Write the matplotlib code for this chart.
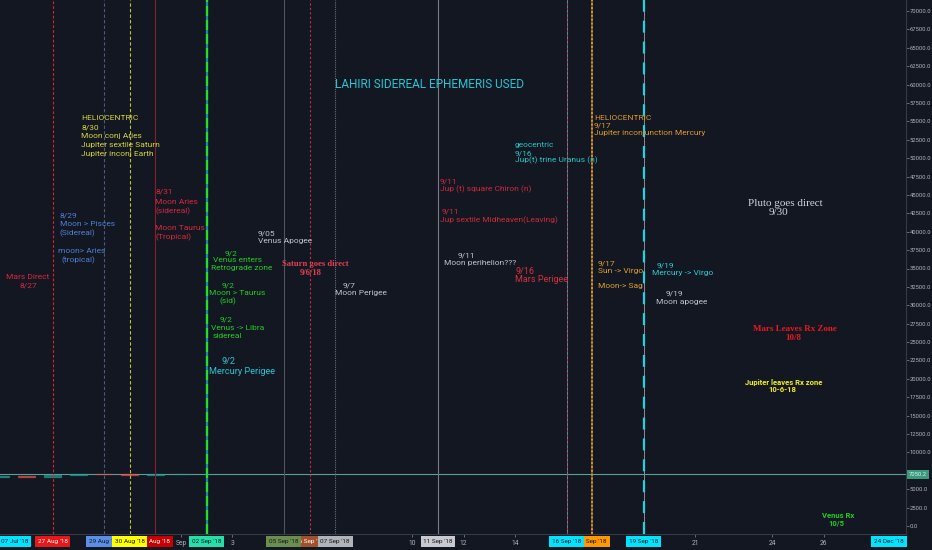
import datetime as dt
import matplotlib
matplotlib.use("Agg")
import matplotlib.pyplot as plt
import matplotlib.dates as mdates
import matplotlib.transforms as mtrans

# ---------------- data ----------------
candle_dates = ["2018-08-25", "2018-08-26", "2018-08-27", "2018-08-28",
                "2018-08-29", "2018-08-30", "2018-08-31", "2018-09-01"]
candle_open = [6690, 6760, 6690, 6920, 7080, 7040, 6990, 7020]
candle_close = [6760, 6690, 6920, 7080, 7040, 6990, 7020, 7120]
last_price = 7050.2

event_dates = ["2018-08-27", "2018-08-29", "2018-08-30", "2018-08-31",
               "2018-09-02", "2018-09-05", "2018-09-06", "2018-09-07",
               "2018-09-11", "2018-09-16", "2018-09-17", "2018-09-19"]
event_labels = ["27 Aug '18", "29 Aug '18", "30 Aug '18", "31 Aug '18",
                "02 Sep '18", "05 Sep '18", "06 Sep '18", "07 Sep '18",
                "11 Sep '18", "16 Sep '18", "17 Sep '18", "19 Sep '18"]
plain_tick_dates = ["2018-09-01", "2018-09-03", "2018-09-10", "2018-09-12",
                    "2018-09-14", "2018-09-21", "2018-09-24", "2018-09-26"]
plain_tick_labels = ["Sep", "3", "10", "12", "14", "21", "24", "26"]
edge_labels = ["07 Jul '18", "24 Dec '18"]
y_ticks = list(range(0, 70001, 2500))

# ---------------- style ----------------
BG = "#131722"
AXC = "#b2b5be"
W, H = 932, 550
fig = plt.figure(figsize=(W / 100, H / 100), dpi=100, facecolor=BG)
ax = fig.add_axes([0, 16 / H, 906 / W, 534 / H], facecolor=BG)

def dnum(s):
    return mdates.date2num(dt.datetime.strptime(s, "%Y-%m-%d"))

base = dnum("2018-09-01")
ppd = 25.7
ax.set_xlim(base - 181 / ppd, base + (906 - 181) / ppd)
ppv = 515 / 70000
ax.set_ylim(-8 / ppv, 526 / ppv)

# candles
for d, o, c in zip(candle_dates, candle_open, candle_close):
    col = "#26a69a" if c >= o else "#ef5350"
    ax.bar(dnum(d), c - o, bottom=o, width=0.65, color=col, edgecolor=col,
           linewidth=0.9, alpha=0.6, zorder=3)

# price line
ax.axhline(last_price, color="#5a9e9a", lw=0.8, zorder=2)

# event lines (styles per event)
line_styles = [
    [dict(color="#e0202a", lw=0.8, ls=(0, (2.5, 1.8)))],
    [dict(color="#4e5a7a", lw=0.8, ls=(0, (3, 2)))],
    [dict(color="#c0c040", lw=0.8, ls=(0, (3, 2)))],
    [dict(color="#8a1c2c", lw=0.8, ls="-")],
    [dict(color="#1e88a8", lw=1.6, ls="-"),
     dict(color="#22e022", lw=1.6, ls=(0, (4.5, 1.8)))],
    [dict(color="#50545f", lw=0.8, ls="-")],
    [dict(color="#c0304a", lw=0.8, ls=(0, (2, 2)))],
    [dict(color="#6a6e78", lw=0.8, ls=(0, (1, 1)))],
    [dict(color="#787b86", lw=0.8, ls="-")],
    [dict(color="#2aa8b8", lw=0.7, ls="-"),
     dict(color="#d02848", lw=0.8, ls=(0, (2, 2)))],
    [dict(color="#6a5030", lw=1.4, ls="-"),
     dict(color="#e0902a", lw=1.4, ls=(0, (1, 1)))],
    [dict(color="#8a8d96", lw=0.7, ls="-"),
     dict(color="#22d3e0", lw=1.6, ls=(0, (5.4, 4)))],
]
for d, sts in zip(event_dates, line_styles):
    for st in sts:
        ax.axvline(dnum(d), color=st["color"], lw=st["lw"], ls=st["ls"], zorder=4)

# axes styling
for s in ["left", "top"]:
    ax.spines[s].set_visible(False)
for s in ["right", "bottom"]:
    ax.spines[s].set_color("#363a45")
    ax.spines[s].set_linewidth(0.8)
ax.yaxis.tick_right()
ax.set_yticks(y_ticks)
# the tick label under the last-price marker is hidden, as in the reference
ax.set_yticklabels(["" if abs(v - last_price) < 1000 else f"{v:.1f}" for v in y_ticks])
ax.tick_params(axis="y", colors="#787b86", labelcolor=AXC, labelsize=4.2,
               length=2, width=0.6, pad=0.8)
ax.set_xticks([dnum(d) for d in plain_tick_dates])
ax.set_xticklabels(plain_tick_labels)
ax.tick_params(axis="x", colors="#787b86", labelcolor=AXC, labelsize=4.8,
               length=2, width=0.6, pad=2)
for lab in ax.get_yticklabels() + ax.get_xticklabels():
    lab.set_family("Roboto")

# last price label
tr_yd = mtrans.blended_transform_factory(fig.transFigure, ax.transData)
fig.text(909 / W, last_price, f"{last_price:.1f}", transform=tr_yd, fontsize=4.2,
         family="Roboto", color="#e8f0ec", va="center", ha="left", zorder=10,
         bbox=dict(boxstyle="square,pad=0.35", fc="#3a9a7e", ec="none"))

# highlighted date labels
tr_xd = mtrans.blended_transform_factory(ax.transData, fig.transFigure)
label_bg = ["#e81818", "#5b8ee6", "#ffff00", "#c80000", "#22e0a8", "#6b8e4e",
            "#a0522d", "#b0b3b8", "#c8cacf", "#00e5ff", "#ff9800", "#00e5ff"]
label_fg = ["#ffffff", "#131722", "#131722", "#ffffff", "#131722", "#131722",
            "#ffffff", "#131722", "#131722", "#131722", "#131722", "#131722"]
label_z = [3, 2, 5, 3, 3, 5, 2, 5, 3, 5, 3, 3]
ylab = 1 - 541.5 / H
LBOX = dict(boxstyle="square,pad=0.42")
for d, s, bg, fg, z in zip(event_dates, event_labels, label_bg, label_fg, label_z):
    fig.text(dnum(d), ylab, s, transform=tr_xd, fontsize=4.6, family="Roboto",
             color=fg, ha="center", va="center", zorder=z,
             bbox=dict(LBOX, fc=bg, ec="none"))
tr_xa = mtrans.blended_transform_factory(ax.transAxes, fig.transFigure)
fig.text(15 / 906, ylab, edge_labels[0], transform=tr_xa, fontsize=4.6,
         family="Roboto", color="#131722", ha="center", va="center", zorder=6,
         bbox=dict(LBOX, fc="#00e5ff", ec="none"))
fig.text(889 / 906, ylab, edge_labels[1], transform=tr_xa, fontsize=4.6,
         family="Roboto", color="#131722", ha="center", va="center", zorder=6,
         bbox=dict(LBOX, fc="#00e5ff", ec="none"))

# ---------------- annotations ----------------
def T(x, y, s, color, size=6.0, ha="left", weight="normal", family="Roboto"):
    fig.text(x / W, 1 - y / H, s, color=color, fontsize=size, ha=ha, va="center",
             fontweight=weight, family=family, zorder=8)

YEL = "#d6d63c"
RED = "#d8283c"
BLU = "#4f7fd4"
GRN = "#22cc22"
CYN = "#26c6d4"
GRY = "#c0c4cc"
ORG = "#dc9a30"

T(335, 84, "LAHIRI SIDEREAL EPHEMERIS USED", CYN, size=8.5)

for y, s in zip([118, 127, 136, 145, 154],
                ["HELIOCENTRIC", "8/30", "Moon conj Aries",
                 "Jupiter sextile Saturn", "Jupiter inconj Earth"]):
    T(81, y, s, YEL)

for y, s in zip([192, 202, 211, 228, 237],
                ["8/31", "Moon Aries", "(sidereal)", "Moon Taurus", "(Tropical)"]):
    T(155, y, s, RED)

for y, s in zip([215, 224, 233], ["8/29", "Moon > Pisces", "(Sidereal)"]):
    T(60, y, s, BLU)
T(58, 251, "moon> Aries", BLU)
T(61, 260, "(tropical)", BLU)

T(28, 277, "Mars Direct", RED, ha="center")
T(28, 286, "8/27", RED, ha="center")

T(258, 233, "9/05", GRY)
T(258, 241, "Venus Apogee", GRY)

for x, y, s in [(231, 253, "9/2"), (238, 260, "Venus enters"),
                (242, 268, "Retrograde zone"),
                (228, 285, "9/2"), (237, 293, "Moon > Taurus"), (228, 301, "(sid)"),
                (226, 319, "9/2"), (238, 328, "Venus -> Libra"),
                (227, 336, "sidereal")]:
    T(x, y, s, GRN, ha="center")
T(228, 362, "9/2", CYN, size=6.6, ha="center")
T(242, 371, "Mercury Perigee", CYN, size=6.6, ha="center")

T(315, 264, "Saturn goes direct", "#e0404f", size=6.2, ha="center",
  weight="bold", family="Liberation Serif")
T(311, 273, "9/6/18", "#e0404f", size=6.2, ha="center", weight="bold",
  family="Liberation Serif")

T(343, 285, "9/7", GRY)
T(335, 293, "Moon Perigee", GRY)

T(458, 255, "9/11", GRY)
T(444, 263, "Moon perihelion???", GRY)

T(440, 181, "9/11", "#d02a3a")
T(440, 189, "Jup (t) square Chiron (n)", "#d02a3a")
T(442, 212, "9/11", "#d02a3a")
T(440, 220, "Jup sextile Midheaven(Leaving)", "#d02a3a")

T(515, 271, "9/16", "#d83040", size=6.5)
T(515, 280, "Mars Perigee", "#d83040", size=6.5)

for y, s in zip([145, 153, 160], ["geocentric", "9/16", "Jup(t) trine Uranus (n)"]):
    T(515, y, s, "#26c6c6")

for y, s in zip([118, 126, 133],
                ["HELIOCENTRIC", "9/17", "Jupiter inconjunction Mercury"]):
    T(594, y, s, ORG)

T(598, 263, "9/17", "#e0a030")
T(598, 271, "Sun -> Virgo", "#e0a030")
T(598, 286, "Moon-> Sag", "#e0a030")

T(657, 265, "9/19", "#26d0d8")
T(652, 273, "Mercury -> Virgo", "#26d0d8")

T(666, 294, "9/19", GRY)
T(656, 302, "Moon apogee", GRY)

T(785, 203, "Pluto goes direct", "#d0d4dc", size=8, ha="center",
  family="Liberation Serif")
T(778, 213, "9/30", "#d0d4dc", size=8, ha="center", family="Liberation Serif")

T(795, 329, "Mars Leaves Rx Zone", "#e81820", size=6.5, ha="center",
  weight="bold", family="Liberation Serif")
T(793, 338, "10/8", "#e81820", size=6.5, ha="center", weight="bold",
  family="Liberation Serif")

T(784, 382, "Jupiter leaves Rx zone", "#f0f020", size=5.5, ha="center",
  weight="bold")
T(782, 389, "10-6-18", "#f0f020", size=5.5, ha="center", weight="bold")

T(838, 516, "Venus Rx", GRN, size=5.5, ha="center", weight="bold")
T(836, 523, "10/5", GRN, size=5.5, ha="center", weight="bold")

fig.savefig("out.png", dpi=100, facecolor=BG)
